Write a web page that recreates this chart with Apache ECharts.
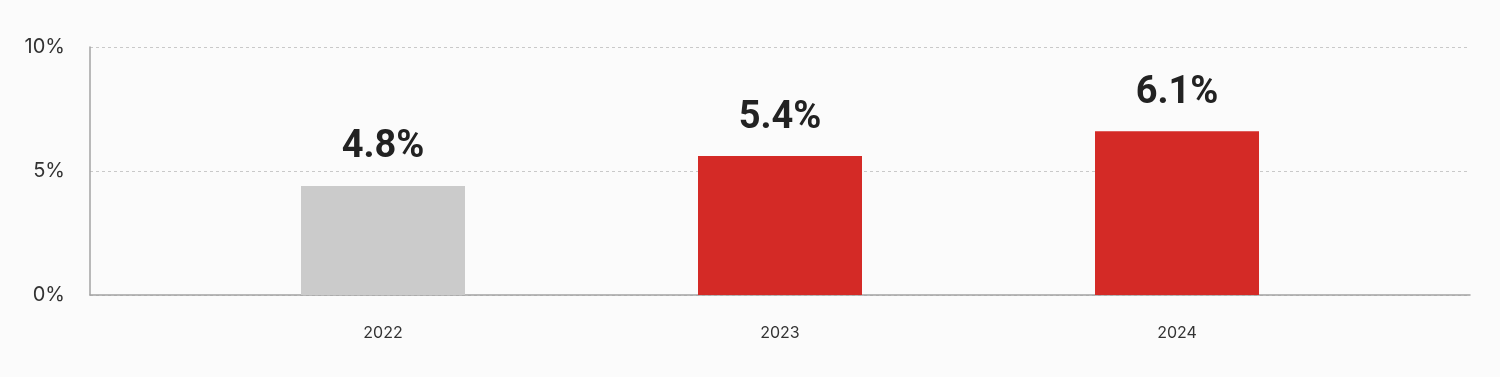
<!DOCTYPE html>
<html>
<head>
<meta charset="utf-8">
<script src="https://cdn.jsdelivr.net/npm/echarts@6/dist/echarts.min.js"></script>
<style>
	html, body { margin: 0; padding: 0; background: #fbfbfb; }
	#chart { width: 1500px; height: 377px; }
</style>
</head>
<body>
<div id="chart"></div>
<script>
// data
const years = ['2022', '2023', '2024'];
const barValues = [4.4, 5.6, 6.6];
const labelTexts = ['4.8%', '5.4%', '6.1%'];
const barColors = ['#cbcbcb', '#d42a26', '#d42a26'];
const yTicks = [0, 5, 10];

const chart = echarts.init(document.getElementById('chart'), null, { renderer: 'canvas' });

const option = {
	backgroundColor: '#fbfbfb',
	animation: false,
	grid: { left: 90, right: 30, top: 47, bottom: 82 },
	xAxis: {
		type: 'value',
		min: -0.738,
		max: 2.738,
		splitLine: { show: false },
		axisTick: { show: false },
		axisLine: { show: true, onZero: false, lineStyle: { color: '#a3a3a3', width: 1.5 } },
		axisLabel: {
			customValues: [0, 1, 2],
			formatter: (v) => years[Math.round(v)],
			margin: 30,
			color: '#333',
			fontFamily: 'Inter',
			fontSize: 16
		}
	},
	yAxis: {
		type: 'value',
		min: yTicks[0],
		max: yTicks[yTicks.length - 1],
		interval: 5,
		axisLine: { show: true, onZero: false, lineStyle: { color: '#a3a3a3', width: 1.5 } },
		axisTick: { show: false },
		splitLine: { lineStyle: { color: '#c9c9c9', type: [3, 3], width: 1 } },
		axisLabel: {
			formatter: (v) => v + '%',
			margin: 25,
			color: '#333',
			fontFamily: 'Inter',
			fontSize: 20
		}
	},
	series: [{
		type: 'bar',
		barWidth: 164,
		data: barValues.map((v, i) => ({
			value: [i, v],
			itemStyle: { color: barColors[i] }
		})),
		label: {
			show: true,
			position: 'top',
			distance: 19,
			formatter: (p) => labelTexts[p.dataIndex],
			color: '#222',
			fontFamily: 'Roboto',
			fontWeight: 'bold',
			fontSize: 38
		}
	}]
};

chart.setOption(option);
</script>
</body>
</html>
